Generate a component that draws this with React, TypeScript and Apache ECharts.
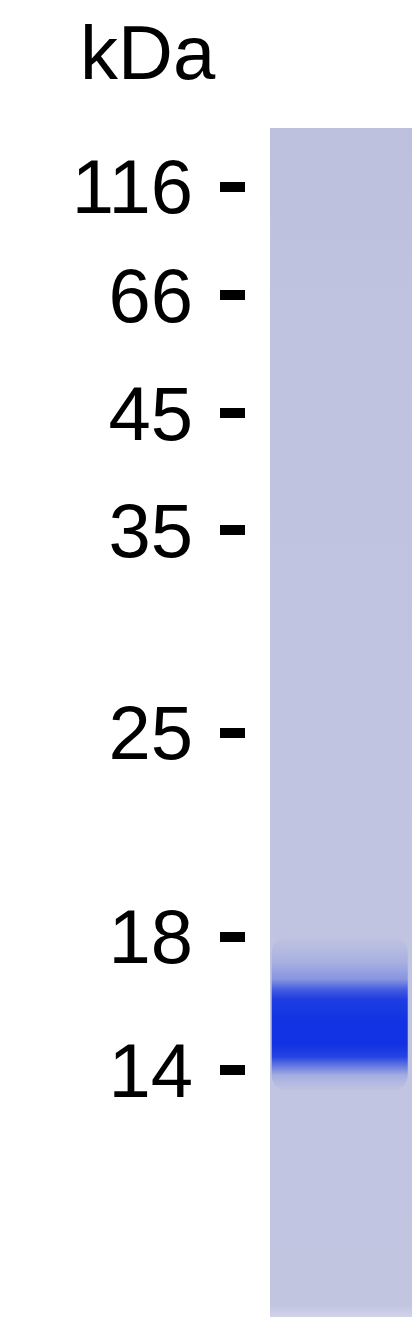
import React, { useEffect, useRef } from "react";
import * as echarts from "echarts";

// Molecular-weight marker ladder (kDa) and its relative mobility (Rf, 0 = top of lane, 1 = bottom)
const markerKDa: number[] = [116, 66, 45, 35, 25, 18, 14];
const markerRf: number[] = [0.0496, 0.1405, 0.2397, 0.3381, 0.5088, 0.6804, 0.7923];

// Sample lane: densitometry-like staining intensity profile (Rf, relative intensity 0..1)
const laneName = "Lane 1";
const profileRf: number[] = [0.0, 0.68, 0.702, 0.716, 0.725, 0.733, 0.75, 0.771, 0.781, 0.789, 0.797, 0.81, 1.0];
const profileIntensity: number[] = [0.0, 0.0, 0.14, 0.32, 0.7, 0.9, 0.97, 0.97, 0.86, 0.5, 0.15, 0.0, 0.0];

// Band horizontal extent inside the lane (fraction of lane width)
const bandXStart = 0.012;
const bandXEnd = 0.97;

const unitLabel = "kDa";

const STAIN = [12, 46, 226];

export default function App() {
  const ref = useRef<HTMLDivElement>(null);

  useEffect(() => {
    document.body.style.margin = "0";
    if (!ref.current) return;
    const chart = echarts.init(ref.current, undefined, { renderer: "svg" });

    const labelFor = (v: number) => {
      let best = 0;
      let bd = Infinity;
      markerRf.forEach((r, i) => {
        const d = Math.abs(r - v);
        if (d < bd) {
          bd = d;
          best = i;
        }
      });
      return String(markerKDa[best]);
    };

    const firstIdx = profileIntensity.findIndex((v) => v > 0) - 1;
    let lastIdx = profileIntensity.length - 1;
    for (let i = profileIntensity.length - 1; i >= 0; i--) {
      if (profileIntensity[i] > 0) {
        lastIdx = i + 1;
        break;
      }
    }
    const rfTop = profileRf[Math.max(0, firstIdx)];
    const rfBottom = profileRf[Math.min(profileRf.length - 1, lastIdx)];
    const stops = [];
    for (let i = Math.max(0, firstIdx); i <= lastIdx; i++) {
      stops.push({
        offset: (profileRf[i] - rfTop) / (rfBottom - rfTop),
        color: `rgba(${STAIN[0]},${STAIN[1]},${STAIN[2]},${profileIntensity[i]})`,
      });
    }

    chart.setOption({
      animation: false,
      backgroundColor: "#ffffff",
      title: {
        text: unitLabel,
        left: 80,
        top: 14,
        padding: 0,
        textStyle: {
          fontFamily: "Liberation Sans",
          fontSize: 76,
          fontWeight: "normal",
          color: "#000",
          lineHeight: 76,
        },
      },
      grid: [
        { left: 270, right: 0, top: 128, bottom: 7 },
        { left: 220, width: 25, top: 128, bottom: 7 },
      ],
      xAxis: [
        { type: "value", min: 0, max: 1, show: false, gridIndex: 0 },
        { type: "value", min: 0, max: 1, show: false, gridIndex: 1 },
      ],
      yAxis: [
        { type: "value", inverse: true, min: 0, max: 1, show: false, gridIndex: 0 },
        {
          type: "value",
          gridIndex: 1,
          inverse: true,
          min: 0,
          max: 1,
          position: "left",
          axisLine: { show: false },
          splitLine: { show: false },
          axisTick: {
            show: true,
            inside: true,
            customValues: markerRf,
            length: 25,
            lineStyle: { color: "#000", width: 10 },
          },
          axisLabel: {
            show: true,
            customValues: markerRf,
            margin: 27,
            formatter: (v: number) => labelFor(v),
            fontFamily: "Liberation Sans",
            fontSize: 76,
            color: "#000",
          },
        },
      ],
      series: [
        {
          name: laneName + " gel",
          type: "custom",
          silent: true,
          xAxisIndex: 0,
          yAxisIndex: 0,
          data: [[0, 0, 1, 1]],
          renderItem: (params: any, api: any) => {
            const p0 = api.coord([api.value(0), api.value(1)]);
            const p1 = api.coord([api.value(2), api.value(3)]);
            return {
              type: "rect",
              shape: { x: p0[0], y: p0[1], width: p1[0] - p0[0], height: p1[1] - p0[1] },
              style: {
                fill: new echarts.graphic.LinearGradient(0, 0, 0, 1, [
                  { offset: 0, color: "#bcc0dc" },
                  { offset: 0.15, color: "#bfc3e0" },
                  { offset: 0.5, color: "#c0c4e1" },
                  { offset: 0.99, color: "#c1c5e0" },
                  { offset: 1, color: "#d0d3e8" },
                ]),
              },
            };
          },
        },
        {
          name: laneName,
          type: "custom",
          silent: true,
          xAxisIndex: 0,
          yAxisIndex: 0,
          data: [[bandXStart, rfTop, bandXEnd, rfBottom]],
          renderItem: (params: any, api: any) => {
            const p0 = api.coord([api.value(0), api.value(1)]);
            const p1 = api.coord([api.value(2), api.value(3)]);
            return {
              type: "rect",
              shape: {
                x: p0[0],
                y: p0[1],
                width: p1[0] - p0[0],
                height: p1[1] - p0[1],
                r: 16,
              },
              style: {
                fill: new echarts.graphic.LinearGradient(0, 0, 0, 1, stops),
              },
            };
          },
        },
      ],
    });

    return () => {
      chart.dispose();
    };
  }, []);

  return (
    <div
      ref={ref}
      style={{ position: "absolute", left: 0, top: 0, width: 412, height: 1324 }}
    />
  );
}
